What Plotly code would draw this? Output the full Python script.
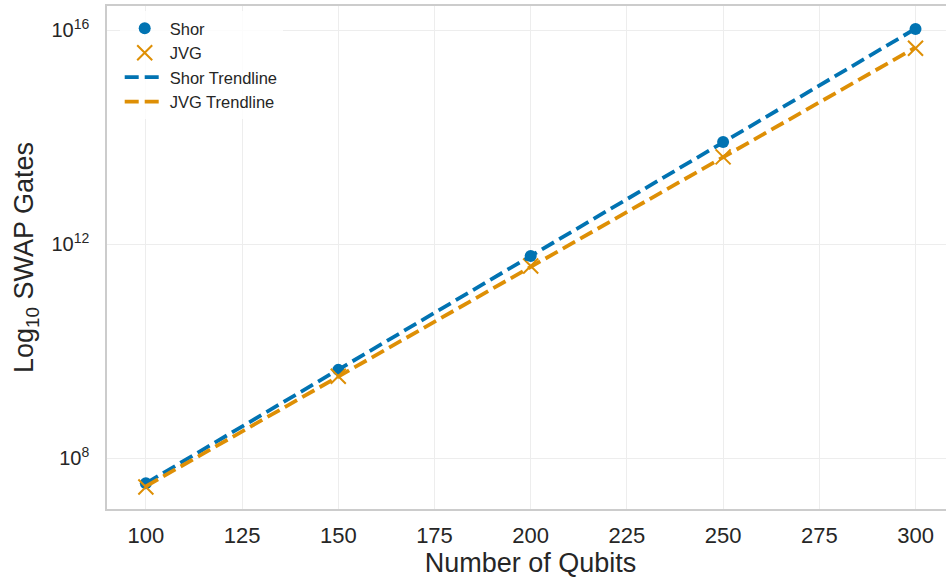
import numpy as np
import plotly.graph_objects as go

qubits = [100, 150, 200, 250, 300]
shor_log10 = [7.53, 9.65, 11.78, 13.91, 16.02]
jvg_log10 = [7.46, 9.53, 11.59, 13.63, 15.66]

shor_vals = [10 ** v for v in shor_log10]
jvg_vals = [10 ** v for v in jvg_log10]

y_tickvals = [1e8, 1e12, 1e16]
y_ticktext = ["10<sup>8</sup>", "10<sup>12</sup>", "10<sup>16</sup>"]
x_tickvals = [100, 125, 150, 175, 200, 225, 250, 275, 300]

BLUE = "#0173b2"
ORANGE = "#de8f05"

# exponential trendlines fitted in log space
xs = np.array(qubits, dtype=float)
shor_fit = np.polyfit(xs, np.array(shor_log10), 1)
jvg_fit = np.polyfit(xs, np.array(jvg_log10), 1)
shor_trend = 10 ** np.polyval(shor_fit, xs)
jvg_trend = 10 ** np.polyval(jvg_fit, xs)

fig = go.Figure()
fig.add_trace(go.Scatter(x=qubits, y=shor_vals, mode="markers", name="Shor",
                         marker=dict(symbol="circle", size=12, color=BLUE)))
fig.add_trace(go.Scatter(x=qubits, y=jvg_vals, mode="markers", name="JVG",
                         marker=dict(symbol="x-thin", size=15, color=ORANGE,
                                     line=dict(color=ORANGE, width=2))))
fig.add_trace(go.Scatter(x=qubits, y=shor_trend, mode="lines", name="Shor Trendline",
                         line=dict(color=BLUE, width=3.8, dash="14px,6px")))
fig.add_trace(go.Scatter(x=qubits, y=jvg_trend, mode="lines", name="JVG Trendline",
                         line=dict(color=ORANGE, width=3.8, dash="14px,6px")))

fig.update_layout(
    width=956, height=581,
    margin=dict(l=107, r=0, t=6, b=72),
    paper_bgcolor="white", plot_bgcolor="white",
    font=dict(family="Liberation Sans, Arial, sans-serif", color="#262626"),
    legend=dict(x=0.015, y=0.99, xanchor="left", yanchor="top",
                bgcolor="rgba(255,255,255,0.8)", font=dict(size=16.5),
                itemwidth=40, tracegroupgap=0),
)
fig.update_xaxes(
    range=[89.9, 310], tickvals=x_tickvals, tickfont=dict(size=22),
    title=dict(text="Number of Qubits", font=dict(size=27), standoff=6),
    showgrid=True, gridcolor="#ededed", gridwidth=1,
    showline=True, linecolor="#cccccc", linewidth=1.5, mirror=True,
    ticks="", zeroline=False, ticklabelstandoff=6,
)
fig.update_yaxes(
    type="log", range=[7.05, 16.45], tickvals=y_tickvals, ticktext=y_ticktext,
    tickfont=dict(size=20),
    title=dict(text="Log<sub>10</sub> SWAP Gates", font=dict(size=27), standoff=10),
    showgrid=True, gridcolor="#ededed", gridwidth=1,
    showline=True, linecolor="#cccccc", linewidth=1.5, mirror=True,
    ticks="", zeroline=False, ticklabelstandoff=12,
)

fig.write_html("out.html", config={"displayModeBar": False},
               post_script="document.body.style.margin='0';document.body.style.overflow='hidden';")
